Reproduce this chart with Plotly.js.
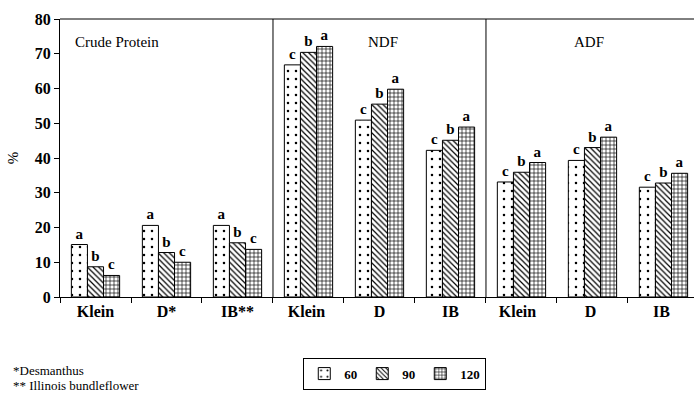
<!DOCTYPE html>
<html><head><meta charset="utf-8">
<script src="https://cdn.plot.ly/plotly-3.0.1.min.js"></script>
<style>html,body{margin:0;padding:0;background:#fff}#chart{width:694px;height:393px}</style>
</head><body><div id="chart"></div>
<script>
const categories = ["Klein","D*","IB**","Klein ","D","IB","Klein  ","D ","IB "];
const days = ["60","90","120"];
const values60  = [15.1, 20.6, 20.6, 66.8, 50.9, 42.2, 33.1, 39.3, 31.6];
const values90  = [8.7, 12.8, 15.6, 70.4, 55.5, 45.1, 35.9, 43.0, 32.8];
const values120 = [6.2, 10.0, 13.7, 72.1, 59.8, 48.9, 38.7, 46.0, 35.6];
const letters60  = ["a","a","a","c","c","c","c","c","c"];
const letters90  = ["b","b","b","b","b","b","b","b","b"];
const letters120 = ["c","c","c","a","a","a","a","a","a"];
const panelTitles = ["Crude Protein","NDF","ADF"];
const footnotes = ["*Desmanthus","** Illinois bundleflower"];

const serif = "Liberation Serif";
const series = [
  {name: days[0], y: values60, t: letters60, shape: ".", size: 8, sol: 0.08},
  {name: days[1], y: values90, t: letters90, shape: "\\", size: 4, sol: 0.3},
  {name: days[2], y: values120, t: letters120, shape: "+", size: 4, sol: 0.3}
];
const traces = series.map(s => ({
  type: "bar", name: s.name, x: categories, y: s.y, text: s.t,
  textposition: "outside", cliponaxis: false,
  textfont: {family: serif, size: 15, color: "#000", weight: "bold"},
  marker: {color: "#fff", line: {color: "#000", width: 1},
    pattern: {shape: s.shape, fgcolor: "#000", bgcolor: "#fff", size: s.size, solidity: s.sol}},
  hoverinfo: "skip"
}));

const layout = {
  width: 694, height: 393,
  margin: {l: 60, r: 0, t: 19, b: 96},
  paper_bgcolor: "#fff", plot_bgcolor: "#fff",
  barmode: "group", bargap: 0.32, bargroupgap: 0,
  font: {family: serif, color: "#000"},
  showlegend: true,
  legend: {orientation: "h", xref: "container", yref: "container", x: 0.437, xanchor: "left", y: 0.09, yanchor: "top",
    bordercolor: "#000", borderwidth: 1, font: {family: serif, size: 13, weight: "bold"},
    itemwidth: 30, tracegroupgap: 0},
  xaxis: {type: "category", range: [-0.5, 8.43], showline: true, linecolor: "#000", linewidth: 1,
    ticks: "outside", tickson: "boundaries", ticklen: 5, tickcolor: "#000",
    tickfont: {family: serif, size: 16, weight: "bold"}, showgrid: false, fixedrange: true},
  yaxis: {range: [0, 80], dtick: 10, showline: true, linecolor: "#000", linewidth: 1,
    ticks: "outside", ticklen: 5, tickcolor: "#000", showgrid: false, zeroline: false,
    tickfont: {family: serif, size: 16, weight: "bold"},
    title: {text: "%", font: {family: serif, size: 15}, standoff: 12}},
  shapes: [
    {type: "line", xref: "paper", yref: "paper", x0: 0, x1: 1, y0: 1, y1: 1, line: {color: "#000", width: 1}},
    {type: "line", xref: "x", yref: "paper", x0: 2.5, x1: 2.5, y0: 0, y1: 1, line: {color: "#000", width: 1}},
    {type: "line", xref: "x", yref: "paper", x0: 5.5, x1: 5.5, y0: 0, y1: 1, line: {color: "#000", width: 1}}
  ],
  annotations: [
    {text: panelTitles[0], xref: "x", yref: "y", x: 0.3, y: 73.5, showarrow: false, font: {family: serif, size: 15}},
    {text: panelTitles[1], xref: "x", yref: "y", x: 4.05, y: 73.5, showarrow: false, font: {family: serif, size: 15}},
    {text: panelTitles[2], xref: "x", yref: "y", x: 6.95, y: 73.5, showarrow: false, font: {family: serif, size: 15}},
    {text: footnotes[0], xref: "paper", yref: "paper", x: -0.077, y: -0.265, xanchor: "left", yanchor: "middle", showarrow: false, font: {family: serif, size: 13}},
    {text: footnotes[1], xref: "paper", yref: "paper", x: -0.077, y: -0.32, xanchor: "left", yanchor: "middle", showarrow: false, font: {family: serif, size: 13}}
  ]
};
Plotly.newPlot("chart", traces, layout, {staticPlot: true, displayModeBar: false});
</script></body></html>
